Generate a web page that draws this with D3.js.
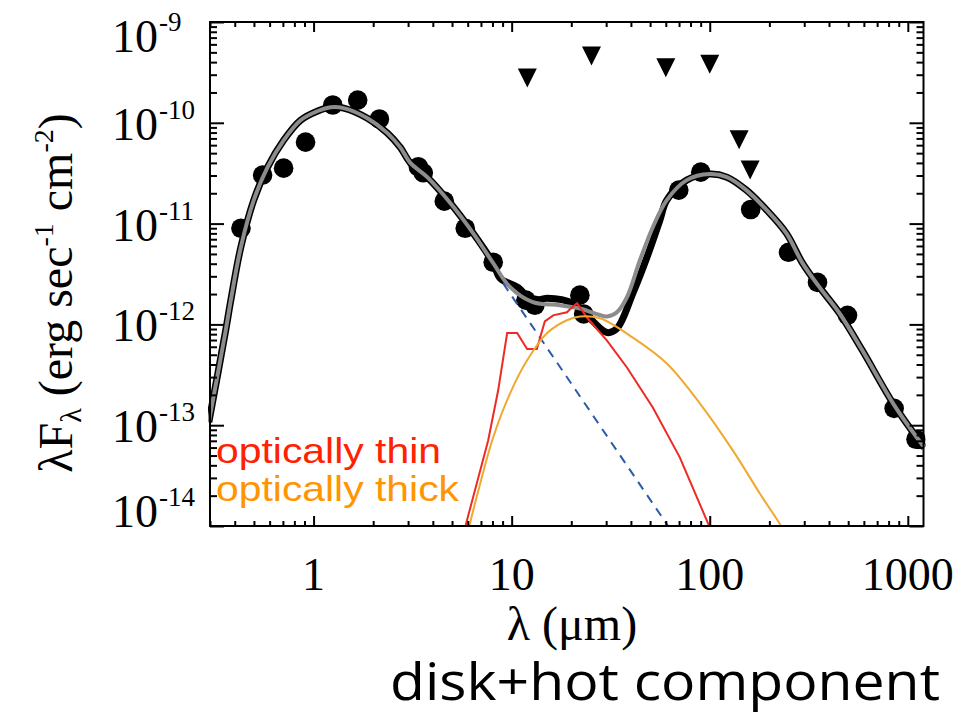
<!DOCTYPE html>
<html>
<head>
<meta charset="utf-8">
<script src="https://cdn.jsdelivr.net/npm/d3@7"></script>
<style>
  html, body { margin:0; padding:0; background:#fff; }
  svg { display:block; }
</style>
</head>
<body>
<svg id="chart" width="978" height="716"></svg>
<script>
// ---------------- DATA ----------------
// photometry (circles): wavelength (micron), lambda*F_lambda (erg s^-1 cm^-2)
const obsLambda = [0.43, 0.553, 0.706, 0.911, 1.25, 1.67, 2.15, 3.38, 3.58, 4.57, 5.83, 8.07,
                   11.8, 13.1, 22.1, 23.1, 69.8, 90.1, 161, 250, 350, 496, 853, 1100];
const obsFlux   = [9.0e-12, 3.03e-11, 3.55e-11, 6.43e-11, 1.50e-10, 1.68e-10, 1.09e-10, 3.66e-11, 3.19e-11, 1.67e-11, 9.0e-12, 4.14e-12,
                   1.74e-12, 1.55e-12, 1.95e-12, 1.27e-12, 2.15e-11, 3.24e-11, 1.38e-11, 5.19e-12, 2.61e-12, 1.23e-12, 1.47e-13, 7.26e-14];

// upper limits (down triangles)
const ulLambda = [12.0, 25.3, 60.0, 100, 140.7, 159.9];
const ulFlux   = [2.79e-10, 4.59e-10, 3.52e-10, 3.80e-10, 6.78e-11, 3.41e-11];

// total model (grey)
const greyLambda = [0.296, 0.360, 0.382, 0.429, 0.499, 0.586, 0.706, 0.860, 1.05, 1.22, 1.42, 1.87, 2.36, 2.74, 3.08, 3.75,
                    4.90, 6.40, 8.07, 9.82, 12.8, 17.5, 22.1, 30.3, 34.0, 38.2, 44.4, 51.6, 60.7, 76.5, 100, 122, 153, 194,
                    244, 294, 358, 452, 590, 855, 1211];
const greyFlux   = [1.07e-13, 8.7e-13, 1.73e-12, 5.8e-12, 1.71e-11, 3.63e-11, 6.7e-11, 1.06e-10, 1.31e-10, 1.43e-10, 1.40e-10, 1.11e-10, 7.9e-11, 5.7e-11, 4.0e-11, 2.89e-11,
                    1.60e-11, 8.0e-12, 4.05e-12, 2.34e-12, 1.66e-12, 1.55e-12, 1.44e-12, 1.20e-12, 1.32e-12, 1.86e-12, 4.33e-12, 9.2e-12, 1.71e-11, 2.70e-11, 3.10e-11, 2.89e-11, 2.15e-11, 1.36e-11,
                    8.0e-12, 4.05e-12, 2.34e-12, 1.29e-12, 5.5e-13, 1.57e-13, 6.0e-14];

// disk + hot component model (black)
const blackLambda = [0.296, 0.360, 0.382, 0.429, 0.499, 0.586, 0.706, 0.860, 1.05, 1.22, 1.42, 1.87, 2.36, 2.74, 3.08, 3.75,
                     4.90, 6.40, 8.07, 8.75, 10.7, 12.8, 15.1, 20.4, 24.0, 30.3, 34.0, 40.9, 48.2, 56.0, 60.7, 76.5, 100, 122, 153, 194,
                     244, 294, 358, 452, 590, 855, 1211];
const blackFlux   = [1.07e-13, 8.7e-13, 1.73e-12, 5.8e-12, 1.71e-11, 3.63e-11, 6.7e-11, 1.06e-10, 1.31e-10, 1.43e-10, 1.40e-10, 1.11e-10, 7.9e-11, 5.7e-11, 4.0e-11, 2.89e-11,
                     1.60e-11, 8.0e-12, 4.05e-12, 2.86e-12, 2.34e-12, 1.73e-12, 1.82e-12, 1.62e-12, 1.23e-12, 8.3e-13, 9.1e-13, 2.03e-12, 4.63e-12, 1.08e-11, 1.71e-11, 2.70e-11, 3.10e-11, 2.89e-11, 2.15e-11, 1.36e-11,
                     8.0e-12, 4.05e-12, 2.34e-12, 1.29e-12, 5.5e-13, 1.57e-13, 6.0e-14];

// stellar photosphere (blue dashed)
const starLambda = [9.06, 22.9, 61.4, 66];
const starFlux   = [2.55e-12, 1.75e-13, 1.01e-14, 8.1e-15];

// optically thin component (red)
const thinLambda = [5.6, 5.83, 7.61, 8.55, 9.49, 10.66, 11.97, 13.4, 14.7, 16.2, 19.0, 20.2, 21.4, 24.0, 30.3, 38.2, 51.6, 70.6, 100, 104];
const thinFlux   = [6.0e-15, 9.8e-15, 7.06e-14, 2.22e-13, 8.2e-13, 8.2e-13, 5.7e-13, 5.7e-13, 1.07e-12, 1.23e-12, 1.32e-12, 1.48e-12, 1.62e-12, 1.17e-12, 6.9e-13, 3.74e-13, 1.50e-13, 4.8e-14, 9.7e-15, 7.8e-15];

// optically thick component (orange)
const thickLambda = [5.9, 6.11, 6.94, 8.07, 9.82, 11.97, 15.1, 19.0, 22.1, 27.9, 40.9, 60.7, 89.1, 131, 179, 231, 245];
const thickFlux   = [6.5e-15, 9.8e-15, 2.64e-14, 7.6e-14, 2.07e-13, 4.4e-13, 8.2e-13, 1.10e-12, 1.20e-12, 1.15e-12, 7.4e-13, 4.1e-13, 1.65e-13, 5.6e-14, 2.1e-14, 9.7e-15, 7.5e-15];

// axes
const xDomain = [0.3, 1200];
const yDomain = [1e-14, 1e-9];
const xTickValues = [1, 10, 100, 1000];
const xTickLabels = ["1", "10", "100", "1000"];
const yTickExponents = [-9, -10, -11, -12, -13, -14];

const legendLabels = ["optically thin", "optically thick"];
const titleText = "disk+hot component";

// ---------------- DRAW ----------------
const svg = d3.select("#chart");
const L = 210, R = 923.5, T = 22, B = 526;
const x = d3.scaleLog().domain(xDomain).range([L, R]);
const y = d3.scaleLog().domain(yDomain).range([B, T]);

const serif = "'Liberation Serif','Times New Roman',serif";

svg.append("defs").append("clipPath").attr("id", "clip")
  .append("rect").attr("x", L - 2).attr("y", T).attr("width", R - L + 4).attr("height", B - T);

const plot = svg.append("g").attr("clip-path", "url(#clip)");

const zip = (a, b) => a.map((v, i) => [v, b[i]]);
const smooth = d3.line().x(d => x(d[0])).y(d => y(d[1])).curve(d3.curveCatmullRom.alpha(0.5));
const straight = d3.line().x(d => x(d[0])).y(d => y(d[1]));

// black model
plot.append("path").attr("d", smooth(zip(blackLambda, blackFlux)))
  .attr("fill", "none").attr("stroke", "#000").attr("stroke-width", 7).attr("stroke-linejoin", "round");

// observed points
plot.selectAll("circle.obs").data(zip(obsLambda, obsFlux)).enter().append("circle")
  .attr("cx", d => x(d[0])).attr("cy", d => y(d[1])).attr("r", 9.8).attr("fill", "#000");

// grey model
plot.append("path").attr("d", smooth(zip(greyLambda, greyFlux)))
  .attr("fill", "none").attr("stroke", "#8c8c8c").attr("stroke-width", 4).attr("stroke-linejoin", "round");

// photosphere
plot.append("path").attr("d", straight(zip(starLambda, starFlux)))
  .attr("fill", "none").attr("stroke", "#2b5ca8").attr("stroke-width", 2).attr("stroke-dasharray", "9,7");

// optically thin
plot.append("path").attr("d", straight(zip(thinLambda, thinFlux)))
  .attr("fill", "none").attr("stroke", "#ee2a24").attr("stroke-width", 2);

// optically thick
plot.append("path").attr("d", smooth(zip(thickLambda, thickFlux)))
  .attr("fill", "none").attr("stroke", "#f0a830").attr("stroke-width", 2);

// upper limits
const tri = d3.path();
tri.moveTo(-9.5, -9.5); tri.lineTo(9.5, -9.5); tri.lineTo(0, 9.5); tri.closePath();
plot.selectAll("path.ul").data(zip(ulLambda, ulFlux)).enter().append("path")
  .attr("d", tri.toString())
  .attr("transform", d => `translate(${x(d[0])},${y(d[1])})`)
  .attr("fill", "#000");

// ---------------- AXES ----------------
const xMinor = [];
for (let k = -1; k <= 3; k++) for (let m = 2; m <= 9; m++) {
  const v = m * Math.pow(10, k);
  if (v > xDomain[0] * 0.999 && v < xDomain[1]) xMinor.push(v);
}
const yMinor = [];
for (let k = -14; k <= -10; k++) for (let m = 2; m <= 9; m++) yMinor.push(m * Math.pow(10, k));
const yMajor = yTickExponents.map(e => Math.pow(10, e));

function styleAxis(g) {
  g.select(".domain").remove();
  g.selectAll(".tick line").attr("stroke", "#000").attr("stroke-width", 2);
  g.selectAll(".tick text").remove();
}
svg.append("g").attr("transform", `translate(0,${B})`).call(d3.axisBottom(x).tickValues(xTickValues).tickSize(-10)).call(styleAxis);
svg.append("g").attr("transform", `translate(0,${B})`).call(d3.axisBottom(x).tickValues(xMinor).tickSize(-5)).call(styleAxis);
svg.append("g").attr("transform", `translate(0,${T})`).call(d3.axisTop(x).tickValues(xTickValues).tickSize(-10)).call(styleAxis);
svg.append("g").attr("transform", `translate(0,${T})`).call(d3.axisTop(x).tickValues(xMinor).tickSize(-5)).call(styleAxis);
svg.append("g").attr("transform", `translate(${L},0)`).call(d3.axisLeft(y).tickValues(yMajor).tickSize(-14)).call(styleAxis);
svg.append("g").attr("transform", `translate(${L},0)`).call(d3.axisLeft(y).tickValues(yMinor).tickSize(-7)).call(styleAxis);
svg.append("g").attr("transform", `translate(${R},0)`).call(d3.axisRight(y).tickValues(yMajor).tickSize(-14)).call(styleAxis);
svg.append("g").attr("transform", `translate(${R},0)`).call(d3.axisRight(y).tickValues(yMinor).tickSize(-7)).call(styleAxis);

svg.append("rect").attr("x", L).attr("y", T).attr("width", R - L).attr("height", B - T)
  .attr("fill", "none").attr("stroke", "#000").attr("stroke-width", 2);

// x tick labels
svg.selectAll("text.xl").data(xTickValues).enter().append("text")
  .attr("x", d => x(d)).attr("y", 590).attr("text-anchor", "middle")
  .attr("font-family", serif).attr("font-size", 46).attr("fill", "#000")
  .text((d, i) => xTickLabels[i]);

// y tick labels
yTickExponents.forEach(e => {
  const ty = y(Math.pow(10, e));
  const base = Math.max(T + 30, Math.min(B + 1, ty + 17));
  svg.append("text").attr("x", 158).attr("y", base).attr("text-anchor", "end")
    .attr("font-family", serif).attr("font-size", 46).attr("fill", "#000").text("10");
  svg.append("text").attr("x", 159).attr("y", base - 21).attr("text-anchor", "start")
    .attr("font-family", serif).attr("font-size", 27).attr("fill", "#000").text(String(e));
});

// y title
const yt = svg.append("text").attr("transform", "translate(72,293) rotate(-90)")
  .attr("text-anchor", "middle").attr("font-family", serif).attr("font-size", 48).attr("fill", "#000");
yt.append("tspan").text("λF");
yt.append("tspan").attr("font-size", 30).attr("dy", 9).text("λ");
yt.append("tspan").attr("dy", -9).text(" (erg sec");
yt.append("tspan").attr("font-size", 28).attr("dy", -19).text("-1");
yt.append("tspan").attr("dy", 19).text(" cm");
yt.append("tspan").attr("font-size", 28).attr("dy", -19).text("-2");
yt.append("tspan").attr("dy", 19).text(")");

// x title
svg.append("text").attr("x", 572).attr("y", 640).attr("text-anchor", "middle")
  .attr("font-family", serif).attr("font-size", 48).attr("fill", "#000").text("λ (μm)");

// legend
const legendColors = ["#ff2200", "#ff9500"];
const legendWidths = [225, 243];
legendLabels.forEach((t, i) => {
  svg.append("text").attr("x", 216).attr("y", 463 + i * 38)
    .attr("font-family", "'Liberation Sans',Arial,sans-serif").attr("font-size", 35)
    .attr("fill", legendColors[i]).attr("textLength", legendWidths[i]).attr("lengthAdjust", "spacingAndGlyphs")
    .text(t);
});

// title
svg.append("text").attr("x", 390).attr("y", 700)
  .attr("font-family", "'Open Sans',Lato,sans-serif").attr("font-size", 51).attr("fill", "#000")
  .attr("textLength", 550).attr("lengthAdjust", "spacingAndGlyphs").text(titleText);
</script>
</body>
</html>
